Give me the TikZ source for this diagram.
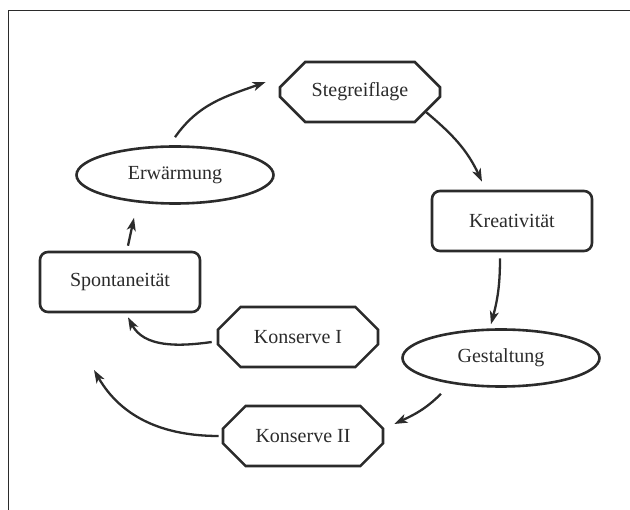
\documentclass[tikz,border=0pt]{standalone}
\usepackage{fontspec}
\setmainfont{Liberation Serif}
\usepackage{tikz}
\usetikzlibrary{arrows.meta,positioning,shapes.geometric,shapes.misc}
\definecolor{ink}{HTML}{2B2B2B}

\begin{document}
\begin{tikzpicture}[>={Stealth[length=13pt,width=9pt,inset=3.5pt]},node distance=1.5cm,on grid,line width=2.6pt,draw=ink,text=ink,
  font=\fontsize{20}{24}\selectfont]
\tikzstyle{octa} = [chamfered rectangle,chamfered rectangle sep=16pt,draw=ink,minimum width=160pt,minimum height=60pt,inner sep=0pt]
\tikzstyle{rbox} = [rectangle,rounded corners=8pt,draw=ink,minimum width=160pt,minimum height=60pt,inner sep=0pt]
\tikzstyle{oval} = [ellipse,draw=ink,minimum width=197pt,minimum height=57pt,inner sep=0pt]
    \useasboundingbox (0,0) rectangle (630pt,-510pt);
    \draw[line width=0.9pt] (8pt,-510pt) |- (630pt,-10pt);

    \node[octa] (steg) at (360pt,-92pt) {Stegreiflage};
    \node[rbox] (krea) [below right =129pt and 152pt of steg] {Kreativität};
    \node[oval] (erw) [below left =83pt and 185pt of steg] {Erwärmung};
    \node[rbox] (spont) [below left =107pt and 55pt of erw] {Spontaneität};
    \node[octa] (kons1) [below right =55pt and 178pt of spont] {Konserve I};
    \node[oval] (gest) [below left =137pt and 11pt of krea] {Gestaltung};
    \node[octa] (kons2) [below right =99pt and 5pt of kons1] {Konserve II};
    \coordinate[below left =88pt and 26pt of spont] (k2tip);

    \tikzset{flow/.style={->,line width=2.3pt}}
    \draw ([yshift=8pt]erw.north) edge [flow,out=55,in=200] ([shift={(-13pt,10pt)}]steg.west);
    \draw ([shift={(-2pt,-2pt)}]steg.south east) edge [flow,out=-40,in=115] ([shift={(-30pt,8pt)}]krea.north);
    \draw ([shift={(-12pt,-6pt)}]krea.south) edge [flow,out=-90,in=75] ([shift={(-10pt,4pt)}]gest.north);
    \draw ([shift={(-60pt,-6pt)}]gest.south) edge [flow,out=-135,in=25] ([shift={(10pt,12pt)}]kons2.east);
    \draw ([xshift=-3pt]kons2.west) edge [flow,out=180,in=-60] (k2tip);
    \draw ([shift={(-5pt,-5pt)}]kons1.west) edge [flow,out=188,in=-62] ([shift={(8pt,-4pt)}]spont.south);
    \draw ([shift={(8pt,5pt)}]spont.north) edge [flow] ([shift={(-41pt,-13pt)}]erw.south);
\end{tikzpicture}
\end{document}
